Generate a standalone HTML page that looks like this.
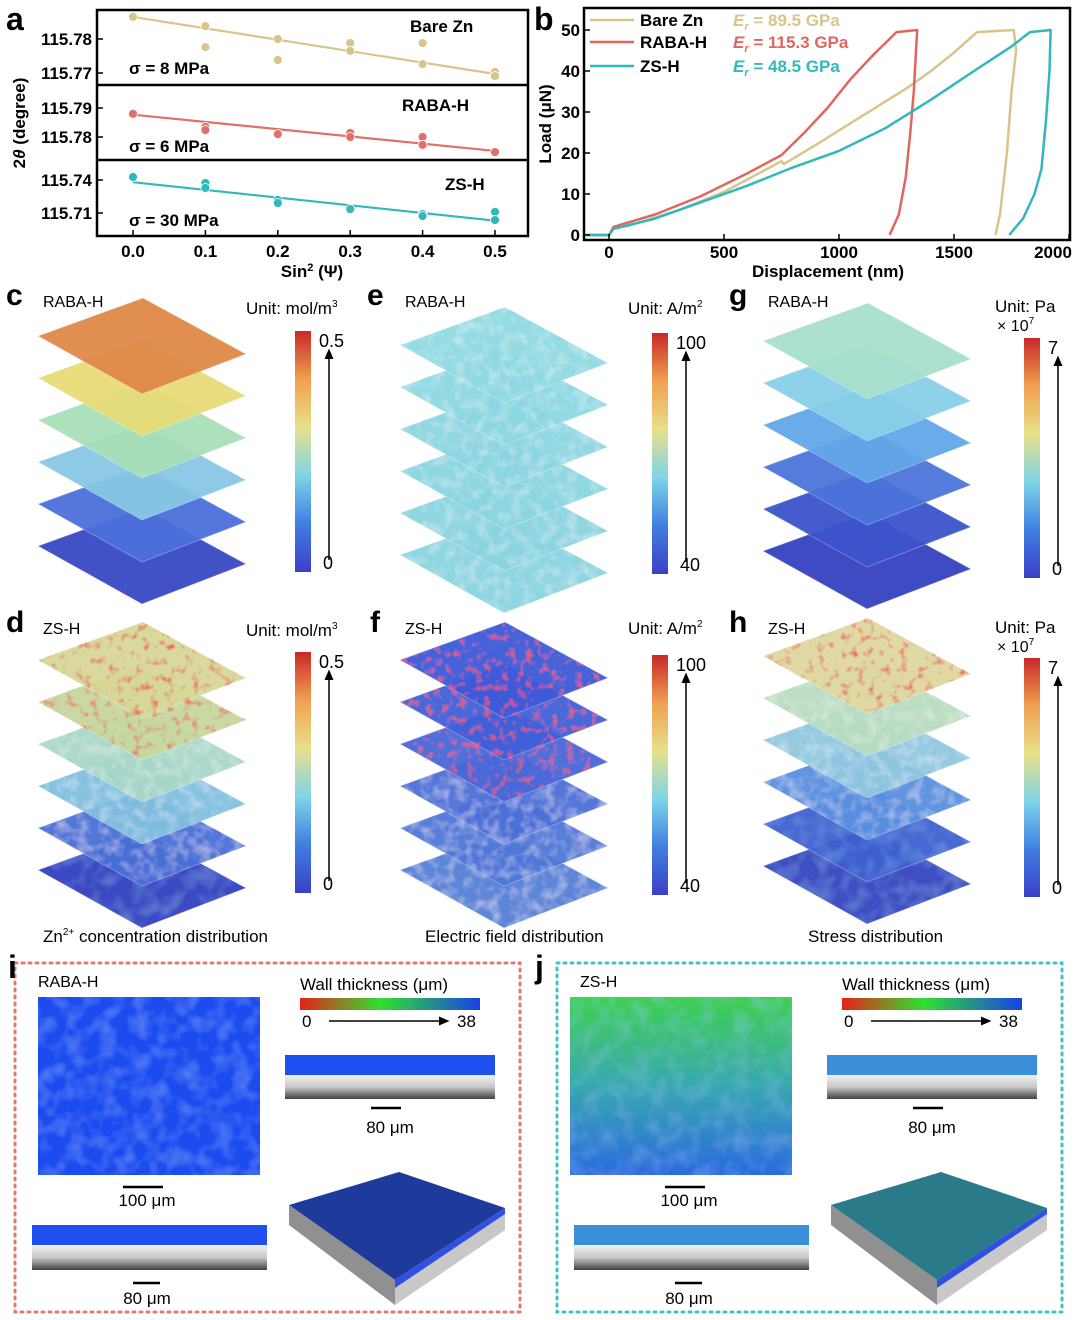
<!DOCTYPE html>
<html><head><meta charset="utf-8">
<style>
body{margin:0;background:#fff;}
#root{position:relative;width:1080px;height:1320px;overflow:hidden;background:#fff;font-family:"Liberation Sans","Noto Sans CJK SC",sans-serif;}
svg text{font-family:"Liberation Sans","Noto Sans CJK SC",sans-serif;}
</style></head>
<body>
<div id="root">
<svg id="fig" width="1080" height="1320" viewBox="0 0 1080 1320" xmlns="http://www.w3.org/2000/svg">
<defs>
<linearGradient id="jet" x1="0" y1="1" x2="0" y2="0">
<stop offset="0" stop-color="#3b3fc8"/><stop offset="0.2" stop-color="#3f7fe0"/><stop offset="0.4" stop-color="#7fd4e8"/><stop offset="0.6" stop-color="#e8e08a"/><stop offset="0.8" stop-color="#f0a050"/><stop offset="1" stop-color="#c82828"/>
</linearGradient>
<linearGradient id="wt" x1="0" y1="0" x2="1" y2="0">
<stop offset="0" stop-color="#e8201a"/><stop offset="0.45" stop-color="#30e030"/><stop offset="1" stop-color="#1a40e8"/>
</linearGradient>
<linearGradient id="zsTop" x1="0" y1="0" x2="0" y2="1">
<stop offset="0" stop-color="#40d050"/><stop offset="0.5" stop-color="#38a8b0"/><stop offset="1" stop-color="#2a6ae0"/>
</linearGradient>
<linearGradient id="xsec" x1="0" y1="0" x2="0" y2="1">
<stop offset="0" stop-color="#f0f0f0"/><stop offset="0.5" stop-color="#c8c8c8"/><stop offset="1" stop-color="#404040"/>
</linearGradient>
<filter id="tex" x="0" y="0" width="1" height="1">
<feTurbulence type="fractalNoise" baseFrequency="0.09" numOctaves="2" seed="3" result="n"/>
<feColorMatrix in="n" type="matrix" values="0 0 0 0 1  0 0 0 0 1  0 0 0 0 1  0 0 0 0.7 -0.3" result="w"/>
<feComposite in="w" in2="SourceGraphic" operator="in" result="wm"/>
<feMerge><feMergeNode in="SourceGraphic"/><feMergeNode in="wm"/></feMerge>
</filter>
<filter id="soft" x="0" y="0" width="1" height="1">
<feTurbulence type="fractalNoise" baseFrequency="0.06" numOctaves="2" seed="5" result="n"/>
<feColorMatrix in="n" type="matrix" values="0 0 0 0 0.3  0 0 0 0 0.6  0 0 0 0 1  0 0 0 0.5 -0.2" result="w"/>
<feComposite in="w" in2="SourceGraphic" operator="in" result="wm"/>
<feMerge><feMergeNode in="SourceGraphic"/><feMergeNode in="wm"/></feMerge>
</filter>
<filter id="spots" x="0" y="0" width="1" height="1">
<feTurbulence type="fractalNoise" baseFrequency="0.12" numOctaves="2" seed="7" result="n"/>
<feColorMatrix in="n" type="matrix" values="0 0 0 0 0.8  0 0 0 0 0.1  0 0 0 0 0.1  0 0 0 3 -1.6" result="r"/>
<feComposite in="r" in2="SourceGraphic" operator="in" result="rm"/>
<feMerge><feMergeNode in="SourceGraphic"/><feMergeNode in="rm"/></feMerge>
</filter>
<marker id="ah" markerWidth="8" markerHeight="8" refX="4" refY="4" orient="auto"><path d="M0,1 L7,4 L0,7 z" fill="#000"/></marker>
</defs>
<g id="panelA"></g>
<g id="panelB"></g>
<g id="stacks"></g>
<g id="bottom"></g>
</svg>
</div>
<script>
// ---------- Panel a data ----------
const aXTicks = [0.0, 0.1, 0.2, 0.3, 0.4, 0.5];
const aXTickLabels = ["0.0","0.1","0.2","0.3","0.4","0.5"];
const aNames = ["Bare Zn","RABA-H","ZS-H"];
const aStress = ["σ = 8 MPa","σ = 6 MPa","σ = 30 MPa"];
const aColors = ["#d9c48c","#e07068","#30b8bc"];
const aPtX = [0,0.1,0.1,0.2,0.2,0.3,0.3,0.4,0.4,0.5,0.5];
const aBareY = [115.7865,115.7838,115.7776,115.7800,115.7738,115.7788,115.7765,115.7788,115.7726,115.7703,115.7691];
const aRabaY = [115.7880,115.7835,115.7824,115.7810,115.7810,115.7814,115.7800,115.7800,115.7773,115.7748,115.7748];
const aZsY = [115.7427,115.7373,115.7327,115.7218,115.7190,115.7136,115.7136,115.7090,115.7073,115.7110,115.7036];
const aFitStart = [115.7865,115.7877,115.7380];
const aFitEnd = [115.7697,115.7752,115.7030];
const aYTicks = [[115.78,115.77],[115.79,115.78],[115.74,115.71]];
const aYTickLabels = [["115.78","115.77"],["115.79","115.78"],["115.74","115.71"]];
const aYRef = [115.78,115.79,115.74];
// ---------- Panel b data ----------
const bXTicks = [0,500,1000,1500,2000];
const bYTicks = [0,10,20,30,40,50];
const bNames = ["Bare Zn","RABA-H","ZS-H"];
const bEr = ["89.5 GPa","115.3 GPa","48.5 GPa"];
const bColors = ["#d9c48c","#e06660","#30b8bc"];
const bBareX = [-100,0,20,100,300,500,700,750,760,900,1100,1300,1400,1500,1600,1760,1770,1750,1730,1700,1680];
const bBareY = [0,0,1.5,2.5,6,10.5,16.5,18,17.3,22,29,36,40,44.5,49.5,50,45,35,20,5,0];
const bRabaX = [-100,0,20,200,400,600,750,850,950,1050,1150,1250,1340,1335,1325,1310,1290,1260,1220];
const bRabaY = [0,0,2,5,9.5,15,19.5,25,31,38,44,49.5,50,45,35,25,14,5,0];
const bZsX = [-100,0,20,200,400,600,800,1000,1200,1400,1600,1750,1830,1920,1915,1900,1880,1850,1800,1740];
const bZsY = [0,0,1.5,4,8,12,16.5,20.5,26,33,40.5,46,49.5,50,40,28,16,10,4,0];

const NS="http://www.w3.org/2000/svg";
function mk(parent,tag,attrs,text){const e=document.createElementNS(NS,tag);for(const k in attrs)e.setAttribute(k,attrs[k]);if(text!==undefined)e.textContent=text;parent.appendChild(e);return e;}

// ---------- Draw panel a ----------
(function(){
 const g=document.getElementById('panelA');
 const L=97,R=528,T=10,B=236;
 const sub=[[10,85,39,3400],[85,160,108,2900],[160,236,180,1100]];
 const xS=v=>133+v*(495-133)/0.5;
 const t=mk(g,'text',{x:6,y:30,'font-size':32,'font-weight':'bold'},'a');
 
 for(let i=0;i<3;i++){
  const [y0,y1,rp,ppu]=sub[i];
  const yS=v=>rp-(v-aYRef[i])*ppu;
  const sg=mk(g,'g',{});
  
  
  const ys=[aBareY,aRabaY,aZsY][i];
  mk(sg,'line',{x1:xS(0),y1:yS(aFitStart[i]),x2:xS(0.5),y2:yS(aFitEnd[i]),stroke:aColors[i],'stroke-width':2.2});
  for(let j=0;j<aPtX.length;j++){
   const c=mk(sg,'circle',{cx:xS(aPtX[j]),cy:yS(ys[j]),r:4.5,fill:aColors[i],stroke:'#fff','stroke-width':0.8});
   
  }
  aYTicks[i].forEach((v,k)=>{
   mk(sg,'line',{x1:L,y1:yS(v),x2:L+6,y2:yS(v),stroke:'#000','stroke-width':1.5});
   const tl=mk(sg,'text',{x:L-5,y:yS(v)+6,'font-size':17,'font-weight':'bold','text-anchor':'end'},aYTickLabels[i][k]);
   
  });
  const nm=mk(sg,'text',{x:[410,402,445][i],y:[32,111,190][i],'font-size':17,'font-weight':'bold'},aNames[i]);
  
  const st=mk(sg,'text',{x:129,y:[74,152,226][i],'font-size':17,'font-weight':'bold'},aStress[i]);
  
  if(i>0) mk(g,'line',{x1:L,y1:y0,x2:R,y2:y0,stroke:'#000','stroke-width':2.5});
 }
 mk(g,'rect',{x:L,y:T,width:R-L,height:B-T,fill:'none',stroke:'#000','stroke-width':2.5});
 aXTicks.forEach((v,k)=>{
  mk(g,'line',{x1:xS(v),y1:B,x2:xS(v),y2:B-6,stroke:'#000','stroke-width':1.5});
  const tl=mk(g,'text',{x:xS(v),y:257,'font-size':17,'font-weight':'bold','text-anchor':'middle'},aXTickLabels[k]);
  
 });
 const xt=mk(g,'text',{x:312,y:277,'font-size':17,'font-weight':'bold','text-anchor':'middle'});
 xt.innerHTML='Sin<tspan dy="-6" font-size="11">2</tspan><tspan dy="6"> (Ψ)</tspan>';
 
 const yt=mk(g,'text',{x:0,y:0,'font-size':17,'font-weight':'bold','text-anchor':'middle',transform:'translate(25,123) rotate(-90)'});
 yt.innerHTML='2<tspan font-style="italic">θ</tspan> (degree)';
 
})();

// ---------- Draw panel b ----------
(function(){
 const g=document.getElementById('panelB');
 const L=584,R=1070,T=8,B=240;
 const xS=v=>609+v*115/500;
 const yS=v=>235-v*4.1;
 const t=mk(g,'text',{x:534,y:30,'font-size':32,'font-weight':'bold'},'b');
 
 const xs=[bBareX,bRabaX,bZsX], ys=[bBareY,bRabaY,bZsY];
 for(let i=0;i<3;i++){
  const d=xs[i].map((x,k)=>(k?'L':'M')+xS(x).toFixed(1)+','+yS(ys[i][k]).toFixed(1)).join(' ');
  const p=mk(g,'path',{d:d,fill:'none',stroke:bColors[i],'stroke-width':2.5,'stroke-linejoin':'round'});
  
  
  const ly=[26,48,72][i];
  const le=mk(g,'g',{});
  
  mk(le,'line',{x1:590,y1:ly-6,x2:634,y2:ly-6,stroke:bColors[i],'stroke-width':2.5});
  mk(le,'text',{x:640,y:ly,'font-size':17,'font-weight':'bold'},bNames[i]);
  const et=mk(le,'text',{x:733,y:ly,'font-size':17,'font-weight':'bold',fill:bColors[i]});
  et.innerHTML='<tspan font-style="italic">E</tspan><tspan font-style="italic" font-size="11" dy="4">r</tspan><tspan dy="-4"> = '+bEr[i]+'</tspan>';
 }
 mk(g,'rect',{x:L,y:T,width:R-L,height:B-T,fill:'none',stroke:'#000','stroke-width':2.5});
 bXTicks.forEach(v=>{
  mk(g,'line',{x1:xS(v),y1:B,x2:xS(v),y2:B-6,stroke:'#000','stroke-width':1.5});
  const tl=mk(g,'text',{x:v===2000?1053:xS(v),y:258,'font-size':17,'font-weight':'bold','text-anchor':'middle'},String(v));
  
 });
 bYTicks.forEach(v=>{
  mk(g,'line',{x1:L,y1:yS(v),x2:L+6,y2:yS(v),stroke:'#000','stroke-width':1.5});
  const tl=mk(g,'text',{x:L-4,y:yS(v)+6,'font-size':17,'font-weight':'bold','text-anchor':'end'},String(v));
  
 });
 const xt=mk(g,'text',{x:828,y:277,'font-size':17,'font-weight':'bold','text-anchor':'middle'},'Displacement (nm)');
 
 const yt=mk(g,'text',{x:0,y:0,'font-size':17,'font-weight':'bold','text-anchor':'middle',transform:'translate(551,124) rotate(-90)'},'Load (μN)');
 
})();

// ---------- Stacks c-h ----------
(function(){
 const g=document.getElementById('stacks');
 const panels=[
  {l:'c',lx:6,ly:305,x:38,y:298,name:'RABA-H',cols:['#e08848','#e8dc78','#a8e0b8','#88c8e4','#4c70dc','#3848c4'],f:[null,null,null,null,null,null],cb:[295,331,572],u:'mol/m³',ux:246,uy:314,hi:'0.5',lo:'0'},
  {l:'e',lx:367,ly:305,x:400,y:307,name:'RABA-H',cols:['#90dae2','#8cd8e2','#8cd6e2','#8ad6e0','#8ad4e0','#88d4e0'],f:['tex','tex','tex','tex','tex','tex'],cb:[652,333,574],u:'A/m²',ux:628,uy:314,hi:'100',lo:'40'},
  {l:'g',lx:729,ly:305,x:763,y:303,name:'RABA-H',cols:['#a8e0cc','#88d0e8','#62a8e8','#4c74dc','#3c54cc','#3442c0'],f:[null,null,null,null,null,null],cb:[1024,338,578],u:'Pa',ux:995,uy:312,hi:'7',lo:'0',exp:true},
  {l:'d',lx:6,ly:632,x:38,y:622,name:'ZS-H',cols:['#d8d898','#c8d8a0','#a8d8c8','#80c0e0','#4870d8','#3040c0'],f:['spots','spots','tex','tex','tex','soft'],cb:[295,652,893],u:'mol/m³',ux:246,uy:636,hi:'0.5',lo:'0'},
  {l:'f',lx:370,ly:632,x:400,y:622,name:'ZS-H',cols:['#3c5ad8','#4060d8','#4868d8','#4c70d8','#5078d8','#5480d8'],f:['spots','spots','spots','tex','tex','tex'],cb:[652,655,895],u:'A/m²',ux:628,uy:634,hi:'100',lo:'40'},
  {l:'h',lx:729,ly:632,x:763,y:618,name:'ZS-H',cols:['#e0d8a0','#b8dcc0','#90c8e0','#5890e0','#4060d0','#3444c0'],f:['spots','tex','tex','tex','soft','soft'],cb:[1024,658,897],u:'Pa',ux:995,uy:633,hi:'7',lo:'0',exp:true}
 ];
 panels.forEach(p=>{
  const pg=mk(g,'g',{});
  
  const lt=mk(pg,'text',{x:p.lx,y:p.ly,'font-size':30,'font-weight':'bold'},p.l);
  
  const nm=mk(pg,'text',{x:p.x+5,y:p.ly+2,'font-size':16},p.name);
  
  for(let k=5;k>=0;k--){
   const oy=p.y+k*42;
   const pts=[[p.x,oy+38],[p.x+105,oy],[p.x+208,oy+56],[p.x+104,oy+96]].map(q=>q.join(',')).join(' ');
   const attrs={points:pts,fill:p.cols[k],stroke:'rgba(255,255,255,0.3)','stroke-width':1,opacity:0.95};
   if(p.f[k]) attrs.filter='url(#'+p.f[k]+')';
   const lay=mk(pg,'polygon',attrs);
   
  }
  const [bx,by0,by1]=p.cb;
  const cb=mk(pg,'rect',{x:bx,y:by0,width:16,height:by1-by0,fill:'url(#jet)'});
  
  mk(pg,'line',{x1:bx+34,y1:by1-12,x2:bx+34,y2:by0+22,stroke:'#000','stroke-width':1.5,'marker-end':'url(#ah)'});
  mk(pg,'text',{x:bx+24,y:by0+16,'font-size':18},p.hi);
  mk(pg,'text',{x:bx+28,y:by1-3,'font-size':18},p.lo);
  const ut=mk(pg,'text',{x:p.ux,y:p.uy,'font-size':17});
  if(p.u==='mol/m³') ut.innerHTML='Unit: mol/m<tspan font-size="10" dy="-7">3</tspan>';
  else if(p.u==='A/m²') ut.innerHTML='Unit: A/m<tspan font-size="10" dy="-7">2</tspan>';
  else ut.textContent='Unit: Pa';
  
  if(p.exp){const e=mk(pg,'text',{x:p.ux+2,y:p.uy+19,'font-size':16});e.innerHTML='× 10<tspan font-size="10" dy="-7">7</tspan>';}
 });
 const caps=[[43,'Zn<tspan font-size="10" dy="-7">2+</tspan><tspan dy="7"> concentration distribution</tspan>'],[425,'Electric field distribution'],[808,'Stress distribution']];
 caps.forEach(c=>{const t=mk(g,'text',{x:c[0],y:942,'font-size':17});t.innerHTML=c[1];});
})();

// ---------- Bottom panels i, j ----------
(function(){
 const g=document.getElementById('bottom');
 [[15,'#e07a70','i','RABA-H',8],[557,'#40c0c8','j','ZS-H',535]].forEach(([x0,col,l,nm,lx],idx)=>{
  const pg=mk(g,'g',{});
  
  mk(pg,'rect',{x:x0,y:963,width:505,height:349,fill:'none',stroke:col,'stroke-width':3,'stroke-dasharray':'2 5','stroke-linecap':'round'});
  mk(pg,'text',{x:lx,y:978,'font-size':32,'font-weight':'bold'},l);
  mk(pg,'text',{x:x0+23,y:987,'font-size':16},nm);
  const top=idx? 'url(#zsTop)':'#1e4cf0';
  const im=mk(pg,'rect',{x:x0+(idx?13:23),y:997,width:222,height:178,fill:top,filter:'url(#soft)'});
  
  mk(pg,'line',{x1:x0+108,y1:1187,x2:x0+148,y2:1187,stroke:'#000','stroke-width':2.5});
  mk(pg,'text',{x:x0+132,y:1206,'font-size':17,'text-anchor':'middle'},'100 μm');
  const ct=mk(pg,'text',{x:x0+285,y:990,'font-size':17});ct.textContent='Wall thickness (μm)';
  const cb=mk(pg,'rect',{x:x0+285,y:998,width:180,height:12,fill:'url(#wt)'});
  
  mk(pg,'text',{x:x0+287,y:1027,'font-size':17},'0');
  mk(pg,'text',{x:x0+442,y:1027,'font-size':17},'38');
  mk(pg,'line',{x1:x0+314,y1:1021,x2:x0+430,y2:1021,stroke:'#000','stroke-width':1.5,'marker-end':'url(#ah)'});
  const blu=idx?'#3a90d8':'#1e50f0';
  mk(pg,'rect',{x:x0+270,y:1055,width:210,height:20,fill:blu});
  mk(pg,'rect',{x:x0+270,y:1075,width:210,height:24,fill:'url(#xsec)'});
  mk(pg,'line',{x1:x0+356,y1:1108,x2:x0+386,y2:1108,stroke:'#000','stroke-width':2.5});
  mk(pg,'text',{x:x0+375,y:1133,'font-size':17,'text-anchor':'middle'},'80 μm');
  mk(pg,'rect',{x:x0+17,y:1225,width:235,height:20,fill:blu});
  mk(pg,'rect',{x:x0+17,y:1245,width:235,height:25,fill:'url(#xsec)'});
  mk(pg,'line',{x1:x0+118,y1:1283,x2:x0+145,y2:1283,stroke:'#000','stroke-width':2.5});
  mk(pg,'text',{x:x0+132,y:1304,'font-size':17,'text-anchor':'middle'},'80 μm');
  const bt=idx?'#2a7a8a':'#1e3a9a';
  mk(pg,'polygon',{points:[[x0+274,1205],[x0+384,1172],[x0+490,1208],[x0+380,1280]].map(q=>q.join(',')).join(' '),fill:bt});
  mk(pg,'polygon',{points:[[x0+274,1205],[x0+380,1280],[x0+380,1305],[x0+274,1225]].map(q=>q.join(',')).join(' '),fill:'#909090'});
  mk(pg,'polygon',{points:[[x0+380,1280],[x0+490,1208],[x0+490,1230],[x0+380,1305]].map(q=>q.join(',')).join(' '),fill:'#c8c8c8'});
  mk(pg,'polygon',{points:[[x0+380,1280],[x0+490,1208],[x0+490,1214],[x0+380,1288]].map(q=>q.join(',')).join(' '),fill:'#3050e0'});
 });
})();
</script>
</body></html>
